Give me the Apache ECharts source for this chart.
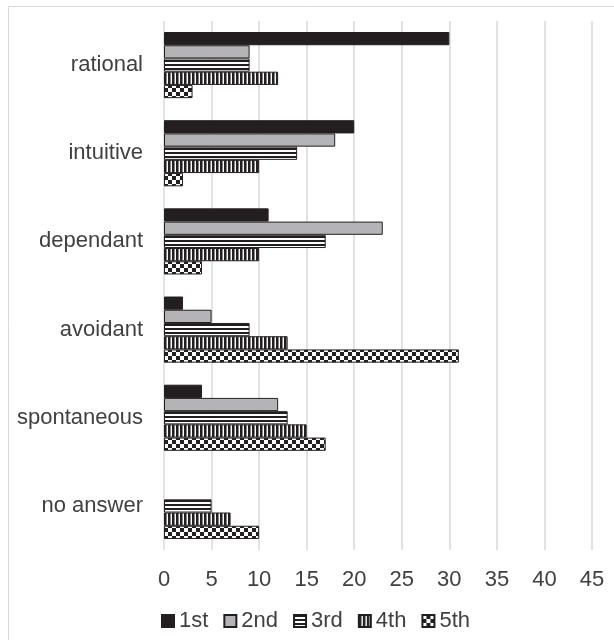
<!DOCTYPE html>
<html><head><meta charset="utf-8">
<script src="https://cdn.jsdelivr.net/npm/echarts@6/dist/echarts.min.js"></script>
<style>html,body{margin:0;padding:0;background:#fff}#c{width:614px;height:640px}</style>
</head><body><div id="c"></div>
<script>
var categories = ['rational','intuitive','dependant','avoidant','spontaneous','no answer'];
var seriesNames = ['1st','2nd','3rd','4th','5th'];
var s1st = [30, 20, 11, 2, 4, 0];
var s2nd = [9, 18, 23, 5, 12, 0];
var s3rd = [9, 14, 17, 9, 13, 5];
var s4th = [12, 10, 10, 13, 15, 7];
var s5th = [3, 2, 4, 31, 17, 10];
var xTicks = [0,5,10,15,20,25,30,35,40,45];

function makePattern(w, h, draw){
  var c = document.createElement('canvas'); c.width = w; c.height = h;
  var ctx = c.getContext('2d'); draw(ctx);
  return {image: c, repeat: 'repeat'};
}
var dark = '#231f20';
var patH = makePattern(4, 4, function(ctx){ ctx.fillStyle='#fff'; ctx.fillRect(0,0,4,4); ctx.fillStyle=dark; ctx.fillRect(0,0,4,2); });
var patV = makePattern(4, 4, function(ctx){ ctx.fillStyle='#fff'; ctx.fillRect(0,0,4,4); ctx.fillStyle=dark; ctx.fillRect(0,0,2,4); ctx.fillStyle='#888'; ctx.fillRect(2,0,1,4); });
var patC = makePattern(8, 8, function(ctx){ ctx.fillStyle=dark; ctx.fillRect(0,0,8,8); ctx.fillStyle='#fff'; ctx.fillRect(0,0,4,4); ctx.fillRect(4,4,4,4); });

var fills = [dark, '#b4b4b7', patH, patV, patC];
var values = [s1st, s2nd, s3rd, s4th, s5th];

var chart = echarts.init(document.getElementById('c'), null, {renderer:'canvas'});
var txt = '#404040';
var ff = 'Liberation Sans, Arial, sans-serif';
chart.setOption({
  animation: false,
  backgroundColor: '#fff',
  graphic: [{type:'rect', left: 6, top: 4, shape:{width: 800, height: 800}, style:{fill:'none', stroke:'#d9d9d9', lineWidth:1}}],
  grid: {left: 164, right: 22, top: 21, bottom: 90},
  legend: {
    top: 605, left: 156, itemWidth: 12, itemHeight: 12, itemGap: 15,
    textStyle: {fontFamily: ff, fontSize: 22, color: txt},
    data: seriesNames.map(function(n){return {name:n, icon:'rect'};})
  },
  xAxis: {
    type: 'value', min: 0, max: 45, interval: 5,
    axisLine: {show:false}, axisTick: {show:false},
    axisLabel: {fontFamily: ff, fontSize: 22, color: txt, margin: 19,
      formatter: function(v){ return xTicks.indexOf(v) >= 0 ? String(v) : ''; }},
    splitLine: {show:true, lineStyle:{color:'#d9d9d9', width:1.5}}
  },
  yAxis: {
    type: 'category', data: categories, inverse: true,
    axisLine: {show:false}, axisTick: {show:false},
    axisLabel: {fontFamily: ff, fontSize: 22, color: txt, margin: 21}
  },
  series: seriesNames.map(function(n, i){
    return {
      name: n, type: 'bar',
      data: values[i].map(function(v){ return v === 0 ? {value: v, itemStyle: {borderWidth: 0}} : v; }),
      barGap: '0%', barCategoryGap: '25%',
      itemStyle: {color: fills[i], borderColor: dark, borderWidth: 1}
    };
  })
});
</script></body></html>
